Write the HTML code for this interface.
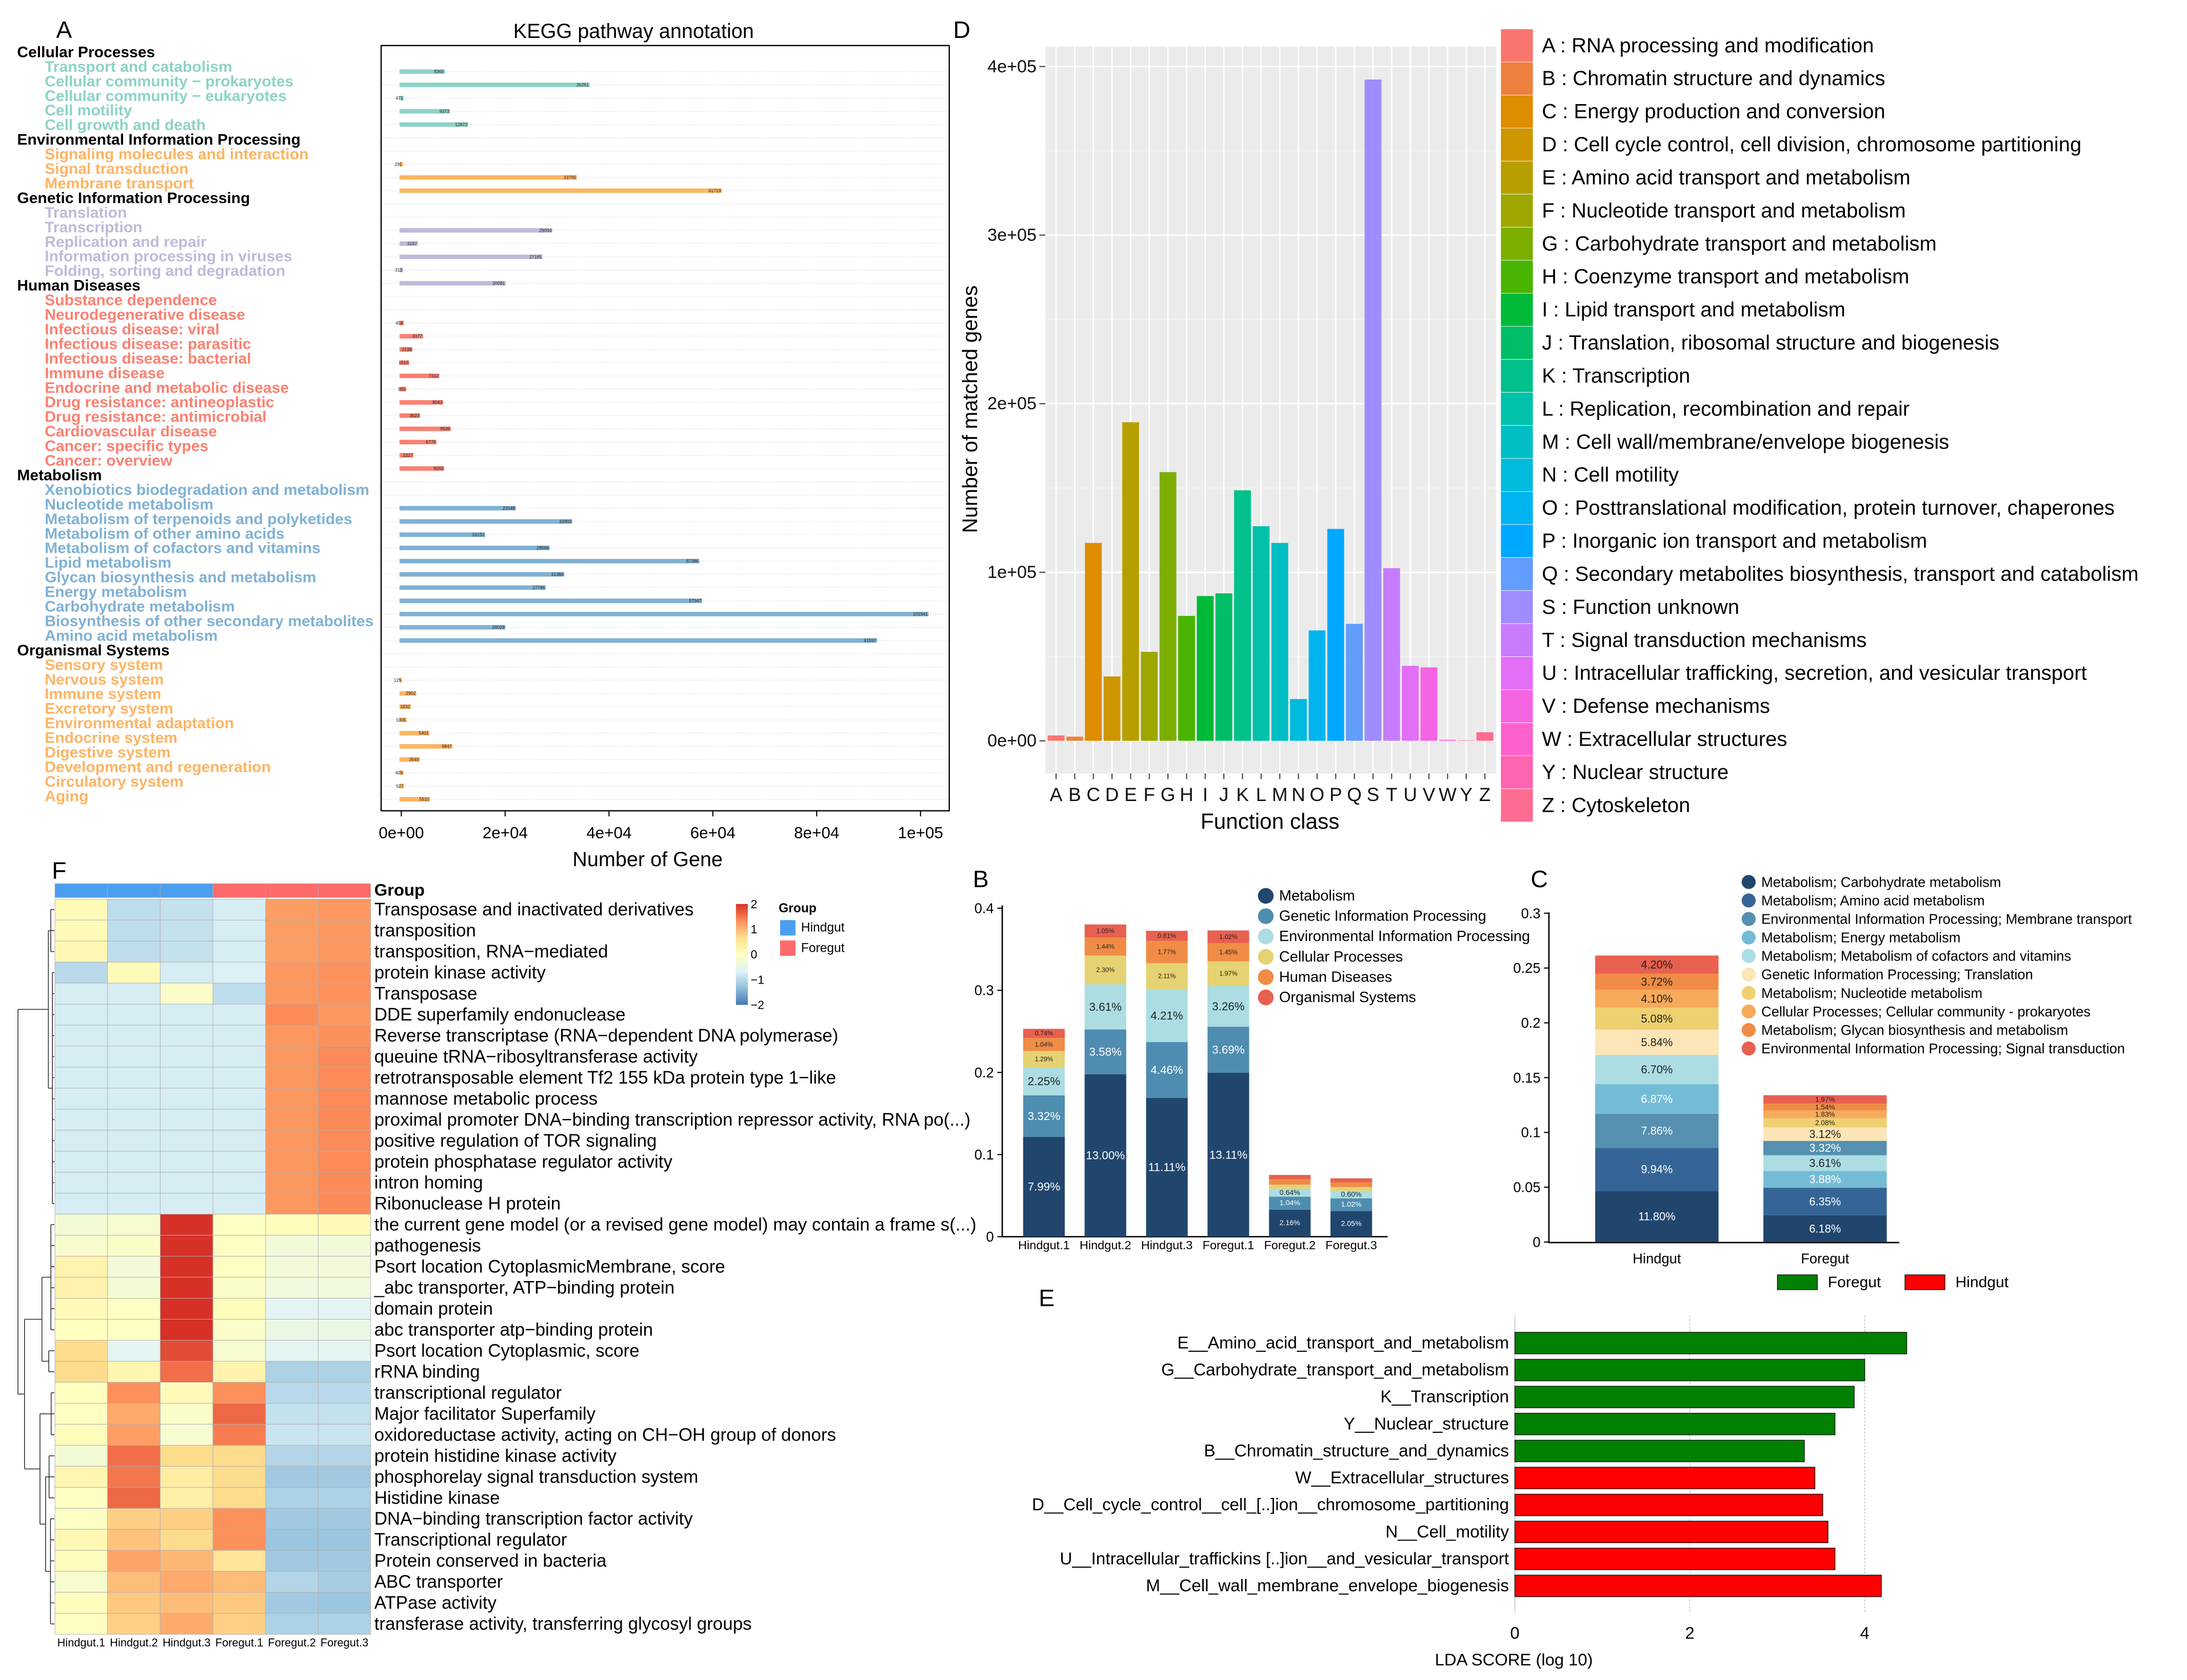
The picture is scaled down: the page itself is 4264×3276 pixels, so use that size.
<!DOCTYPE html>
<html><head><meta charset="utf-8">
<style>
html,body{margin:0;padding:0;background:#fff;}
svg{display:block;font-family:"Liberation Sans",sans-serif;}
</style></head>
<body>
<svg id="fig" xmlns="http://www.w3.org/2000/svg" width="4264" height="3276" viewBox="0 0 1560.2 1198.7">
<rect x="0" y="0" width="1560.2" height="1198.7" fill="#fff"/>
<g id="pA"></g>
<g id="pD"></g>
<g id="pF"></g>
<g id="pB"></g>
<g id="pC"></g>
<g id="pE"></g>
</svg>
<script>
// ---------- Panel A data ----------
const aHeaders = ["Cellular Processes","Environmental Information Processing","Genetic Information Processing","Human Diseases","Metabolism","Organismal Systems"];
const aItems = [
 ["Transport and catabolism","Cellular community \u2212 prokaryotes","Cellular community \u2212 eukaryotes","Cell motility","Cell growth and death"],
 ["Signaling molecules and interaction","Signal transduction","Membrane transport"],
 ["Translation","Transcription","Replication and repair","Information processing in viruses","Folding, sorting and degradation"],
 ["Substance dependence","Neurodegenerative disease","Infectious disease: viral","Infectious disease: parasitic","Infectious disease: bacterial","Immune disease","Endocrine and metabolic disease","Drug resistance: antineoplastic","Drug resistance: antimicrobial","Cardiovascular disease","Cancer: specific types","Cancer: overview"],
 ["Xenobiotics biodegradation and metabolism","Nucleotide metabolism","Metabolism of terpenoids and polyketides","Metabolism of other amino acids","Metabolism of cofactors and vitamins","Lipid metabolism","Glycan biosynthesis and metabolism","Energy metabolism","Carbohydrate metabolism","Biosynthesis of other secondary metabolites","Amino acid metabolism"],
 ["Sensory system","Nervous system","Immune system","Excretory system","Environmental adaptation","Endocrine system","Digestive system","Development and regeneration","Circulatory system","Aging"]
];
const aValues = [
 [8360,36261,471,9373,12872],
 [291,33795,61719],
 [29094,3167,27185,313,20081],
 [458,4177,2138,1510,7312,955,8043,3623,9536,6775,2327,8265],
 [22048,32903,16151,28566,57386,31386,27796,57947,101541,20029,91597],
 [125,2902,1832,1005,5401,9847,3549,409,527,5510]
];
const aTicks = [0,20000,40000,60000,80000,100000];
const aTickLabels = ["0e+00","2e+04","4e+04","6e+04","8e+04","1e+05"];

// ---------- Panel D data ----------
const dCats = ["A","B","C","D","E","F","G","H","I","J","K","L","M","N","O","P","Q","S","T","U","V","W","Y","Z"];
const dValues = [3200,2500,117400,38200,189000,52800,159400,74100,85900,87500,148600,127300,117400,24800,65500,125700,69400,392300,102400,44500,43600,600,300,5100];
const dTicks = [0,100000,200000,300000,400000];
const dTickLabels = ["0e+00","1e+05","2e+05","3e+05","4e+05"];
const dLegend = ["A : RNA processing and modification","B : Chromatin structure and dynamics","C : Energy production and conversion","D : Cell cycle control, cell division, chromosome partitioning","E : Amino acid transport and metabolism","F : Nucleotide transport and metabolism","G : Carbohydrate transport and metabolism","H : Coenzyme transport and metabolism","I : Lipid transport and metabolism","J : Translation, ribosomal structure and biogenesis","K : Transcription","L : Replication, recombination and repair","M : Cell wall/membrane/envelope biogenesis","N : Cell motility","O : Posttranslational modification, protein turnover, chaperones","P : Inorganic ion transport and metabolism","Q : Secondary metabolites biosynthesis, transport and catabolism","S : Function unknown","T : Signal transduction mechanisms","U : Intracellular trafficking, secretion, and vesicular transport","V : Defense mechanisms","W : Extracellular structures","Y : Nuclear structure","Z : Cytoskeleton"];

// ---------- Panel B data ----------
const bSamples = ["Hindgut.1","Hindgut.2","Hindgut.3","Foregut.1","Foregut.2","Foregut.3"];
const bCategories = ["Metabolism","Genetic Information Processing","Environmental Information Processing","Cellular Processes","Human Diseases","Organismal Systems"];
const bMetab = [7.99,13.00,11.11,13.11,2.16,2.05];
const bGenetic = [3.32,3.58,4.46,3.69,1.04,1.02];
const bEnv = [2.25,3.61,4.21,3.26,0.64,0.60];
const bCell = [1.29,2.30,2.11,1.97,0.32,0.30];
const bHuman = [1.04,1.44,1.77,1.45,0.44,0.38];
const bOrg = [0.74,1.05,0.81,1.02,0.34,0.32];
const bTicks = [0,0.1,0.2,0.3,0.4];
const bTickLabels = ["0","0.1","0.2","0.3","0.4"];

// ---------- Panel C data ----------
const cCategories = ["Metabolism; Carbohydrate metabolism","Metabolism; Amino acid metabolism","Environmental Information Processing; Membrane transport","Metabolism; Energy metabolism","Metabolism; Metabolism of cofactors and vitamins","Genetic Information Processing; Translation","Metabolism; Nucleotide metabolism","Cellular Processes; Cellular community - prokaryotes","Metabolism; Glycan biosynthesis and metabolism","Environmental Information Processing; Signal transduction"];
const cHindgut = [11.80,9.94,7.86,6.87,6.70,5.84,5.08,4.10,3.72,4.20];
const cForegut = [6.18,6.35,3.32,3.88,3.61,3.12,2.08,1.83,1.54,1.97];
const cHindOrder = [0,1,2,3,4,5,6,7,8,9];
const cForeOrder = [0,1,3,4,2,5,6,7,8,9];
const cTicks = [0,0.05,0.1,0.15,0.2,0.25,0.3];
const cTickLabels = ["0","0.05","0.1","0.15","0.2","0.25","0.3"];

// ---------- Panel E data ----------
const eLabels = ["E__Amino_acid_transport_and_metabolism","G__Carbohydrate_transport_and_metabolism","K__Transcription","Y__Nuclear_structure","B__Chromatin_structure_and_dynamics","W__Extracellular_structures","D__Cell_cycle_control__cell_[..]ion__chromosome_partitioning","N__Cell_motility","U__Intracellular_traffickins [..]ion__and_vesicular_transport","M__Cell_wall_membrane_envelope_biogenesis"];
const eValues = [4.48,4.00,3.88,3.66,3.31,3.43,3.52,3.58,3.66,4.19];
const eGroups = ["Foregut","Foregut","Foregut","Foregut","Foregut","Hindgut","Hindgut","Hindgut","Hindgut","Hindgut"];
const eTicks = [0,2,4];

// ---------- Panel F data ----------
const hmCols = ["Hindgut.1","Hindgut.2","Hindgut.3","Foregut.1","Foregut.2","Foregut.3"];
const hmGroups = ["Hindgut","Hindgut","Hindgut","Foregut","Foregut","Foregut"];
const hmRows = ["Transposase and inactivated derivatives","transposition","transposition, RNA\u2212mediated","protein kinase activity","Transposase","DDE superfamily endonuclease","Reverse transcriptase (RNA\u2212dependent DNA polymerase)","queuine tRNA\u2212ribosyltransferase activity","retrotransposable element Tf2 155 kDa protein type 1\u2212like","mannose metabolic process","proximal promoter DNA\u2212binding transcription repressor activity, RNA po(...)","positive regulation of TOR signaling","protein phosphatase regulator activity","intron homing","Ribonuclease H protein","the current gene model (or a revised gene model) may contain a frame s(...)","pathogenesis","Psort location CytoplasmicMembrane, score","_abc transporter, ATP\u2212binding protein","domain protein","abc transporter atp\u2212binding protein","Psort location Cytoplasmic, score","rRNA binding","transcriptional regulator","Major facilitator Superfamily","oxidoreductase activity, acting on CH\u2212OH group of donors","protein histidine kinase activity","phosphorelay signal transduction system","Histidine kinase","DNA\u2212binding transcription factor activity","Transcriptional regulator","Protein conserved in bacteria","ABC transporter","ATPase activity","transferase activity, transferring glycosyl groups"];
const hmValues = [
 [0.1,-0.95,-0.9,-0.75,1.2,1.25],
 [0.1,-0.95,-0.9,-0.75,1.2,1.25],
 [0.15,-0.95,-0.9,-0.75,1.2,1.25],
 [-1.0,0.1,-0.75,-0.7,1.25,1.3],
 [-0.75,-0.75,-0.1,-0.95,1.25,1.3],
 [-0.75,-0.75,-0.75,-0.75,1.35,1.25],
 [-0.75,-0.75,-0.75,-0.75,1.25,1.3],
 [-0.75,-0.75,-0.75,-0.75,1.25,1.35],
 [-0.75,-0.75,-0.75,-0.75,1.25,1.35],
 [-0.75,-0.75,-0.75,-0.75,1.25,1.35],
 [-0.75,-0.75,-0.75,-0.75,1.25,1.35],
 [-0.75,-0.75,-0.75,-0.75,1.25,1.35],
 [-0.75,-0.75,-0.75,-0.75,1.25,1.35],
 [-0.75,-0.75,-0.75,-0.75,1.25,1.35],
 [-0.75,-0.75,-0.75,-0.75,1.25,1.35],
 [-0.25,-0.2,2.0,-0.05,0.05,0.1],
 [-0.15,-0.1,2.0,-0.05,-0.3,-0.3],
 [0.25,-0.3,2.0,-0.05,-0.3,-0.3],
 [0.25,-0.25,2.0,-0.1,-0.35,-0.35],
 [0.1,-0.05,2.0,0.05,-0.6,-0.6],
 [0.0,-0.05,2.0,-0.1,-0.45,-0.45],
 [0.7,-0.6,1.8,-0.2,-0.6,-0.6],
 [0.7,0.2,1.55,0.25,-1.1,-1.1],
 [0.0,1.3,0.1,1.3,-1.0,-1.0],
 [-0.05,1.1,-0.1,1.6,-0.9,-0.9],
 [0.05,1.2,-0.2,1.45,-0.85,-0.85],
 [-0.25,1.55,0.7,0.7,-1.05,-1.05],
 [0.2,1.5,0.4,0.7,-1.2,-1.2],
 [-0.05,1.6,0.35,0.7,-1.1,-1.1],
 [-0.05,0.8,0.8,1.3,-1.2,-1.2],
 [0.15,0.9,0.7,1.3,-1.25,-1.25],
 [0.05,1.15,1.0,0.55,-1.2,-1.2],
 [-0.2,0.95,1.1,0.95,-1.05,-1.15],
 [0.05,0.85,0.95,0.85,-1.2,-1.25],
 [-0.05,0.8,1.1,0.8,-1.1,-1.1]
];
const hmLegendTicks = [2,1,0,-1,-2];

// ---------- helpers ----------
const NS = "http://www.w3.org/2000/svg";
function mk(tag, attrs, parent){
  const e = document.createElementNS(NS, tag);
  for (const k in attrs) e.setAttribute(k, attrs[k]);
  parent.appendChild(e);
  return e;
}
function tx(parent, x, y, s, attrs){
  const t = mk("text", Object.assign({x:x, y:y}, attrs || {}), parent);
  t.textContent = s;
  return t;
}
function hcl(h, c, l){
  const hr = h*Math.PI/180, U = c*Math.cos(hr), V = c*Math.sin(hr);
  const Xn=95.047, Yn=100, Zn=108.883;
  const un = 4*Xn/(Xn+15*Yn+3*Zn), vn = 9*Yn/(Xn+15*Yn+3*Zn);
  const Y = l>8 ? Yn*Math.pow((l+16)/116,3) : Yn*l/903.3;
  const up = U/(13*l)+un, vp = V/(13*l)+vn;
  const X = Y*9*up/(4*vp), Z = Y*(12-3*up-20*vp)/(4*vp);
  const x=X/100, y=Y/100, z=Z/100;
  let r = 3.2406*x-1.5372*y-0.4986*z, g = -0.9689*x+1.8758*y+0.0415*z, b = 0.0557*x-0.2040*y+1.0570*z;
  const gm = v => { v = v<=0.0031308 ? 12.92*v : 1.055*Math.pow(v,1/2.4)-0.055; return Math.round(Math.max(0,Math.min(1,v))*255); };
  return "rgb("+gm(r)+","+gm(g)+","+gm(b)+")";
}
function letter(parent, x, y, s){
  const t = tx(parent, x, y, s, {"font-size":17, fill:"#000"});
  
  
}

// ================= PANEL A =================
(function(){
  const g = document.getElementById("pA");
  const aColors = ["#8DD3C7","#FDB462","#BEBADA","#FB8072","#80B1D3","#FDB462"];
  const rowStart = [0,7,12,19,33,46];
  const ax = v => 286.3 + v*0.003704;
  const rowY = r => 51.1 + r*9.44;
  letter(g, 40, 27, "A");
  const title = tx(g, 452, 27, "KEGG pathway annotation", {"font-size":14.5, "text-anchor":"middle"});
  
  
  for (let r=0; r<56; r++){
    const gl = mk("line", {x1:273, x2:676, y1:rowY(r), y2:rowY(r), stroke:"#c8c8c8", "stroke-width":0.4, "stroke-dasharray":"0.6 1.2"}, g);
    
    
  }
  let line = 0;
  for (let gi=0; gi<aHeaders.length; gi++){
    const h = tx(g, 12.2, 37.3+line*10.41, aHeaders[gi], {"font-size":11, "font-weight":"bold", "dominant-baseline":"central", fill:"#000"});
    
    
    line++;
    for (let j=0; j<aItems[gi].length; j++){
      const t = tx(g, 31.9, 37.3+line*10.41, aItems[gi][j], {"font-size":11, "font-weight":"bold", "dominant-baseline":"central", fill:aColors[gi]});
      
      
      line++;
      const v = aValues[gi][j];
      const y = rowY(rowStart[gi]+j);
      const w = Math.max(ax(v)-285, 1.2);
      const b = mk("rect", {x:285, y:y-1.6, width:w, height:3.2, fill:aColors[gi]}, g);
      
      
      const vl = tx(g, 285+w-0.5, y+1.1, String(v), {"font-size":3.2, "text-anchor":"end", fill:"#222"});
      
      
    }
  }
  const fr = mk("rect", {x:271.9, y:32.5, width:405.3, height:546, fill:"none", stroke:"#000", "stroke-width":0.9}, g);
  
  
  for (let i=0; i<aTicks.length; i++){
    const x = ax(aTicks[i]);
    const tk = mk("line", {x1:x, x2:x, y1:578.5, y2:582.5, stroke:"#000", "stroke-width":0.8}, g);
    
    
    const tl = tx(g, x, 598, aTickLabels[i], {"font-size":11.5, "text-anchor":"middle"});
    
    
  }
  const xt = tx(g, 462, 618, "Number of Gene", {"font-size":14.5, "text-anchor":"middle"});
  
  
})();

// ================= PANEL D =================
(function(){
  const g = document.getElementById("pD");
  const L=745.8, R=1067.2, T=33.3, B=551.9;
  const dy = v => 528.6 - v*0.0012028;
  const dx = i => 753.4 + i*13.3;
  letter(g, 680, 27, "D");
  const bg = mk("rect", {x:L, y:T, width:R-L, height:B-T, fill:"#EBEBEB"}, g);
  
  
  for (let v=50000; v<=450000; v+=100000){
    if (dy(v) < T) continue;
    const m = mk("line", {x1:L, x2:R, y1:dy(v), y2:dy(v), stroke:"#F5F5F5", "stroke-width":0.5}, g);
    
    
  }
  for (let i=0; i<dTicks.length; i++){
    const y = dy(dTicks[i]);
    const gl = mk("line", {x1:L, x2:R, y1:y, y2:y, stroke:"#fff", "stroke-width":1}, g);
    
    
    const tk = mk("line", {x1:741.5, x2:L, y1:y, y2:y, stroke:"#444", "stroke-width":0.8}, g);
    
    
    const tl = tx(g, 739.5, y, dTickLabels[i], {"font-size":12.5, "text-anchor":"end", "dominant-baseline":"central", fill:"#111"});
    
    
  }
  for (let i=0; i<dCats.length; i++){
    const vl = mk("line", {x1:dx(i), x2:dx(i), y1:T, y2:B, stroke:"#fff", "stroke-width":1}, g);
    
    
  }
  for (let i=0; i<dCats.length; i++){
    const col = hcl(15+i*15, 100, 65);
    const y = dy(dValues[i]);
    const b = mk("rect", {x:dx(i)-6, y:y, width:12, height:dy(0)-y, fill:col}, g);
    
    
    const tk = mk("line", {x1:dx(i), x2:dx(i), y1:B, y2:B+4, stroke:"#444", "stroke-width":0.8}, g);
    
    
    const tl = tx(g, dx(i), 567, dCats[i], {"font-size":13.5, "text-anchor":"middle", "dominant-baseline":"central", fill:"#111"});
    
    
    const sq = mk("rect", {x:1070.6, y:20.7+i*23.57, width:23.1, height:23.57, fill:col, stroke:"#fff", "stroke-width":0.3}, g);
    
    
    const lt = tx(g, 1100, 20.7+(i+0.5)*23.57, dLegend[i], {"font-size":14.65, "dominant-baseline":"central", fill:"#000"});
    
    
  }
  const xt = tx(g, 906, 586, "Function class", {"font-size":15.5, "text-anchor":"middle", "dominant-baseline":"central"});
  
  
  const yt = tx(g, 0, 0, "Number of matched genes", {"font-size":15, "text-anchor":"middle", "dominant-baseline":"central", transform:"translate(692,292) rotate(-90)"});
  
  
})();

// ================= PANEL F =================
(function(){
  const g = document.getElementById("pF");
  const colX = [39.2,76.7,114.3,151.9,189.5,227,264.4];
  const top = 641.5, rh = 14.99;
  const stops = ["#4575B4","#91BFDB","#E0F3F8","#FFFFBF","#FEE090","#FC8D59","#D73027"];
  function hexRgb(h){ return [parseInt(h.substr(1,2),16),parseInt(h.substr(3,2),16),parseInt(h.substr(5,2),16)]; }
  function colorFor(v){
    let t = (Math.max(-2,Math.min(2,v))+2)/4*6;
    const i = Math.min(5, Math.floor(t)), f = t-i;
    const a = hexRgb(stops[i]), b = hexRgb(stops[i+1]);
    return "rgb("+a.map((c,k)=>Math.round(c+(b[k]-c)*f)).join(",")+")";
  }
  letter(g, 37, 627, "F");
  for (let j=0; j<6; j++){
    const gb = mk("rect", {x:colX[j], y:630.5, width:colX[j+1]-colX[j], height:9.9, fill: hmGroups[j]==="Hindgut" ? "#4C9FEF" : "#FF6A6A", stroke:"#aaa", "stroke-width":0.3}, g);
    
    
  }
  const gt = tx(g, 267, 639, "Group", {"font-size":12, "font-weight":"bold"});
  
  
  for (let i=0; i<hmRows.length; i++){
    for (let j=0; j<6; j++){
      const c = mk("rect", {x:colX[j], y:top+i*rh, width:colX[j+1]-colX[j], height:rh, fill:colorFor(hmValues[i][j]), stroke:"#b0b0b0", "stroke-width":0.35}, g);
      
      
    }
    const rl = tx(g, 267, top+(i+0.5)*rh, hmRows[i], {"font-size":12.8, "dominant-baseline":"central"});
    
    
  }
  for (let j=0; j<6; j++){
    const cl = tx(g, (colX[j]+colX[j+1])/2, 1172, hmCols[j], {"font-size":8, "text-anchor":"middle", "dominant-baseline":"central"});
    
    
  }
  const ry = i => top+(i+0.5)*rh;
  const dend = [];
  function leafGroup(a, b, x){ for (let i=a;i<=b;i++) dend.push([x,ry(i),38.8,ry(i)]); dend.push([x,ry(a),x,ry(b)]); return {x:x, y:(ry(a)+ry(b))/2}; }
  function join(n1, n2, x){ dend.push([x,n1.y,n1.x,n1.y]); dend.push([x,n2.y,n2.x,n2.y]); dend.push([x,n1.y,x,n2.y]); return {x:x, y:(n1.y+n2.y)/2}; }
  const c1 = join(leafGroup(0,2,36.2), leafGroup(3,14,37.4), 34.5);
  const c2 = join(leafGroup(15,20,36.3), leafGroup(21,22,34.8), 29.9);
  const c3 = join(leafGroup(23,25,36.5), join(leafGroup(26,28,35), leafGroup(29,34,36), 32.5), 28.5);
  const c23 = join(c2, c3, 17.5);
  join(c1, c23, 12.8);
  let d = "";
  dend.forEach(s => { d += "M"+s[0]+" "+s[1]+"L"+s[2]+" "+s[3]; });
  const dp = mk("path", {d:d, stroke:"#333", "stroke-width":0.6, fill:"none"}, g);
  
  
  const defs = mk("defs", {}, g);
  const lg = mk("linearGradient", {id:"hmgrad", x1:0, y1:1, x2:0, y2:0}, defs);
  stops.forEach((s,k)=>{ mk("stop", {offset:(k/6*100)+"%", "stop-color":s}, lg); });
  const cb = mk("rect", {x:525, y:645, width:8.5, height:72, fill:"url(#hmgrad)"}, g);
  
  
  for (let k=0; k<hmLegendTicks.length; k++){
    const v = hmLegendTicks[k];
    const y = 645 + (2-v)/4*72;
    const tl = tx(g, 535.5, y, String(v).replace("-","\u2212"), {"font-size":8.5, "dominant-baseline":"central"});
    
    
  }
  const lgT = tx(g, 555.5, 651, "Group", {"font-size":9, "font-weight":"bold"});
  
  
  const grpNames = ["Hindgut","Foregut"], grpCols = ["#4C9FEF","#FF6A6A"];
  for (let k=0; k<2; k++){
    const s = mk("rect", {x:556.5, y:656.5+k*14.5, width:11, height:11, fill:grpCols[k]}, g);
    
    
    const t = tx(g, 571.5, 662+k*14.5, grpNames[k], {"font-size":9, "dominant-baseline":"central"});
    
    
  }
})();

// ================= PANEL B =================
(function(){
  const g = document.getElementById("pB");
  const by = v => 882.4 - v*586;
  const bx = i => 729.9 + i*43.85;
  const bw = 29.7, k = 0.01522;
  const bCols = ["#21466E","#4F8DB0","#ABDDE3","#E5D272","#F08C45","#E8604F"];
  const series = [bMetab,bGenetic,bEnv,bCell,bHuman,bOrg];
  letter(g, 694, 633, "B");
  const ya = mk("line", {x1:715, x2:715, y1:646, y2:882.4, stroke:"#000", "stroke-width":1}, g);
  
  
  const xa = mk("line", {x1:715, x2:990, y1:882.4, y2:882.4, stroke:"#000", "stroke-width":1}, g);
  
  
  for (let i=0; i<bTicks.length; i++){
    const y = by(bTicks[i]);
    const tk = mk("line", {x1:711.5, x2:715, y1:y, y2:y, stroke:"#000", "stroke-width":0.8}, g);
    
    
    const tl = tx(g, 709, y, bTickLabels[i], {"font-size":10, "text-anchor":"end", "dominant-baseline":"central"});
    
    
  }
  for (let s=0; s<bSamples.length; s++){
    let cum = 0;
    for (let c=0; c<series.length; c++){
      const p = series[c][s];
      const y1 = by(cum*k), y2 = by((cum+p)*k);
      const r = mk("rect", {x:bx(s), y:y2, width:bw, height:y1-y2, fill:bCols[c]}, g);
      
      
      if (p >= 0.5){
        const big = c < 3 && s < 4;
        const fs = big ? 8.2 : (c < 3 ? 5.2 : 4.6);
        const lab = tx(g, bx(s)+bw/2, (y1+y2)/2, p.toFixed(2)+"%", {"font-size":fs, "text-anchor":"middle", "dominant-baseline":"central", fill: c < 2 ? "#fff" : "#222"});
        
        
      }
      cum += p;
    }
    const xl = tx(g, bx(s)+bw/2, 888.5, bSamples[s], {"font-size":8.6, "text-anchor":"middle", "dominant-baseline":"central"});
    
    
  }
  for (let c=0; c<bCategories.length; c++){
    const y = 639.2 + c*14.5;
    const ci = mk("circle", {cx:903, cy:y, r:5.6, fill:bCols[c]}, g);
    
    
    const t = tx(g, 912.5, y, bCategories[c], {"font-size":10.6, "dominant-baseline":"central"});
    
    
  }
})();

// ================= PANEL C =================
(function(){
  const g = document.getElementById("pC");
  const cy = v => 886.2 - v*782;
  const k = 0.003954;
  const cCols = ["#21466E","#356596","#5590B0","#74BCD6","#ABDDE3","#FCE5B6","#EFD070","#F7AA5A","#F08C45","#E8604F"];
  letter(g, 1092, 633, "C");
  const ya = mk("line", {x1:1105, x2:1105, y1:651, y2:887, stroke:"#000", "stroke-width":1}, g);
  
  
  const xa = mk("line", {x1:1105, x2:1355, y1:886.6, y2:886.6, stroke:"#000", "stroke-width":1}, g);
  
  
  for (let i=0; i<cTicks.length; i++){
    const y = cy(cTicks[i]);
    const tk = mk("line", {x1:1101.5, x2:1105, y1:y, y2:y, stroke:"#000", "stroke-width":0.8}, g);
    
    
    const tl = tx(g, 1099, y, cTickLabels[i], {"font-size":10, "text-anchor":"end", "dominant-baseline":"central"});
    
    
  }
  const bars = [{name:"Hindgut", x:1138, vals:cHindgut, order:cHindOrder}, {name:"Foregut", x:1258, vals:cForegut, order:cForeOrder}];
  bars.forEach(b => {
    let cum = 0;
    b.order.forEach(ci => {
      const p = b.vals[ci];
      const y1 = cy(cum*k), y2 = cy((cum+p)*k);
      const r = mk("rect", {x:b.x, y:y2, width:88, height:y1-y2, fill:cCols[ci]}, g);
      
      
      const fs = p >= 2.5 ? 8 : 5;
      const lab = tx(g, b.x+44, (y1+y2)/2, p.toFixed(2)+"%", {"font-size":fs, "text-anchor":"middle", "dominant-baseline":"central", fill: ci < 4 ? "#fff" : "#222"});
      
      
      cum += p;
    });
    const xl = tx(g, b.x+44, 898, b.name, {"font-size":10, "text-anchor":"middle", "dominant-baseline":"central"});
    
    
  });
  for (let c=0; c<cCategories.length; c++){
    const y = 629.3 + c*13.2;
    const ci = mk("circle", {cx:1247.5, cy:y, r:5, fill:cCols[c]}, g);
    
    
    const t = tx(g, 1256.5, y, cCategories[c], {"font-size":10, "dominant-baseline":"central"});
    
    
  }
})();

// ================= PANEL E =================
(function(){
  const g = document.getElementById("pE");
  const ex = v => 1080.7 + v*62.4;
  const rowC = i => 958.3 + i*19.25;
  letter(g, 741, 932, "E");
  for (let i=0; i<eTicks.length; i++){
    const x = ex(eTicks[i]);
    const gl = mk("line", {x1:x, x2:x, y1:938.7, y2:1150.4, stroke:"#bbb", "stroke-width":0.5, "stroke-dasharray": i===0 ? "none" : "1.5 1"}, g);
    
    
    const tl = tx(g, x, 1165, String(eTicks[i]), {"font-size":12, "text-anchor":"middle", "dominant-baseline":"central"});
    
    
  }
  for (let i=0; i<eLabels.length; i++){
    const y = rowC(i);
    const col = eGroups[i]==="Foregut" ? "#008000" : "#FF0000";
    const b = mk("rect", {x:ex(0), y:y-7.7, width:ex(eValues[i])-ex(0), height:15.4, fill:col, stroke:"#111", "stroke-width":0.5}, g);
    
    
    const t = tx(g, 1076.5, y, eLabels[i], {"font-size":12.2, "text-anchor":"end", "dominant-baseline":"central"});
    
    
  }
  const xt = tx(g, 1080, 1184, "LDA SCORE (log 10)", {"font-size":12, "text-anchor":"middle", "dominant-baseline":"central"});
  
  
  const lgN = ["Foregut","Hindgut"], lgC = ["#008000","#FF0000"], lgX = [1268, 1359];
  for (let k=0; k<2; k++){
    const s = mk("rect", {x:lgX[k], y:909.6, width:28.5, height:10.6, fill:lgC[k], stroke:"#111", "stroke-width":0.5}, g);
    
    
    const t = tx(g, lgX[k]+36, 915, lgN[k], {"font-size":11, "dominant-baseline":"central"});
    
    
  }
})();
</script>
</body></html>
